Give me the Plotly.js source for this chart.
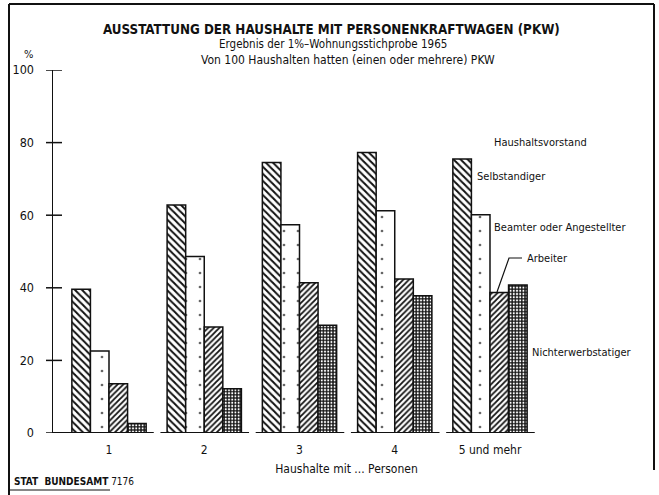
<!DOCTYPE html>
<html>
<head>
<meta charset="utf-8">
<script src="https://cdn.plot.ly/plotly-3.0.1.min.js"></script>
<style>html,body{margin:0;padding:0;background:#fff;}#chart{width:659px;height:495px;}</style>
</head>
<body>
<div id="chart"></div>
<script>
// ---- data ----
const categories = ["1", "2", "3", "4", "5 und mehr"];
const selbstaendiger = [39.6, 62.8, 74.5, 77.3, 75.5];
const beamte = [22.6, 48.6, 57.4, 61.2, 60.1];
const arbeiter = [13.6, 29.2, 41.4, 42.4, 38.7];
const nichterwerbstaetige = [2.6, 12.2, 29.7, 37.8, 40.8];
const seriesNames = ["Selbstandiger", "Beamter oder Angestellter", "Arbeiter", "Nichterwerbstatiger"];
const yTicks = [0, 20, 40, 60, 80, 100];

// ---- layout geometry (pixels) ----
const W = 659, H = 495;
const M = {l: 53, r: 19, t: 70, b: 62};
const PW = W - M.l - M.r, PH = H - M.t - M.b;
const px = x => (x - M.l) / PW;          // pixel -> paper x
const py = y => (H - M.b - y) / PH;      // pixel -> paper y

const FONT = '"Liberation Sans Narrow", "DejaVu Sans Condensed", "Arial Narrow", sans-serif';
const ink = '#111';

const lineStyle = {color: ink, width: 1.5};
function barTrace(name, vals, pattern) {
  return {
    type: 'bar', name: name, x: categories, y: vals,
    marker: {color: 'white', line: lineStyle, pattern: pattern},
    hoverinfo: 'skip'
  };
}

const traces = [
  barTrace(seriesNames[0], selbstaendiger, {shape: '\\', fgcolor: ink, bgcolor: 'white', size: 5, solidity: 0.4}),
  barTrace(seriesNames[1], beamte, {shape: '.', fgcolor: '#666', bgcolor: 'white', size: 14, solidity: 0.03}),
  barTrace(seriesNames[2], arbeiter, {shape: '/', fgcolor: ink, bgcolor: 'white', size: 4, solidity: 0.45}),
  barTrace(seriesNames[3], nichterwerbstaetige, {shape: '+', fgcolor: ink, bgcolor: 'white', size: 3.2, solidity: 0.66})
];

// baseline segments under each group
const shapes = categories.map((c, i) => ({
  type: 'line', xref: 'x', yref: 'y',
  x0: i === 0 ? -0.64 : i - 0.46, x1: i + 0.47, y0: 0, y1: 0,
  line: {color: ink, width: 2}
}));
// cross-shaped y ticks
yTicks.forEach(v => shapes.push({
  type: 'line', xref: 'paper', yref: 'y', x0: px(46), x1: px(62), y0: v, y1: v,
  line: {color: ink, width: 1.5}
}));
// frame
shapes.push(
  {type: 'line', xref: 'paper', yref: 'paper', x0: px(9), x1: px(654), y0: py(4), y1: py(4), line: {color: ink, width: 2}},
  {type: 'line', xref: 'paper', yref: 'paper', x0: px(9), x1: px(9), y0: py(4), y1: py(495), line: {color: ink, width: 2}},
  {type: 'line', xref: 'paper', yref: 'paper', x0: px(654), x1: px(654), y0: py(4), y1: py(470), line: {color: ink, width: 2}},
  {type: 'line', xref: 'paper', yref: 'paper', x0: px(9), x1: px(110), y0: py(490), y1: py(490), line: {color: ink, width: 1.2}},
  // leader line to "Arbeiter"
  {type: 'path', xref: 'paper', yref: 'paper',
   path: 'M ' + px(497) + ' ' + py(292) + ' L ' + px(509) + ' ' + py(258) + ' L ' + px(522) + ' ' + py(258),
   line: {color: ink, width: 1.2}}
);

function ann(text, x, y, size, opts) {
  return Object.assign({text: text, xref: 'paper', yref: 'paper', x: px(x), y: py(y),
    showarrow: false, xanchor: 'center', yanchor: 'middle',
    font: {family: FONT, size: size, color: ink}}, opts || {});
}

const annotations = [
  ann('<b>AUSSTATTUNG DER HAUSHALTE MIT PERSONENKRAFTWAGEN (PKW)</b>', 331, 29, 13.3),
  ann('Ergebnis der 1%–Wohnungsstichprobe 1965', 333, 44, 11.5),
  ann('Von 100 Haushalten hatten (einen oder mehrere) PKW', 348, 60, 12),
  ann('%', 28, 54, 11),
  ann('Haushaltsvorstand', 540, 142, 11),
  ann(seriesNames[0], 475, 176, 11, {xanchor: 'left'}),
  ann('Beamter oder Angestellter', 492, 228, 11, {xanchor: 'left'}),
  ann(seriesNames[2], 525, 258, 11, {xanchor: 'left'}),
  ann(seriesNames[3], 530, 352, 11, {xanchor: 'left'}),
  ann('<b>STAT  BUNDESAMT</b> 7176', 12, 481, 10, {xanchor: 'left'})
];

const layout = {
  width: W, height: H,
  margin: M,
  paper_bgcolor: 'white', plot_bgcolor: 'white',
  showlegend: false,
  barmode: 'group', bargap: 0.22, bargroupgap: 0,
  font: {family: FONT, size: 12, color: ink},
  xaxis: {
    type: 'category', range: [-0.588, 5.575],
    showline: false, showgrid: false, zeroline: false, ticks: '',
    ticklabelstandoff: 8,
    tickfont: {family: FONT, size: 12, color: ink},
    title: {text: 'Haushalte mit ... Personen', font: {family: FONT, size: 12, color: ink}, standoff: 8}
  },
  yaxis: {
    range: [0, 100], tickvals: yTicks, ticktext: yTicks.map(String),
    showline: true, linecolor: ink, linewidth: 1.5,
    showgrid: false, zeroline: false,
    ticks: '', 
    ticklabelstandoff: 15,
    tickfont: {family: FONT, size: 12.5, color: ink}
  },
  shapes: shapes,
  annotations: annotations
};

Plotly.newPlot('chart', traces, layout, {staticPlot: true});
</script>
</body>
</html>
